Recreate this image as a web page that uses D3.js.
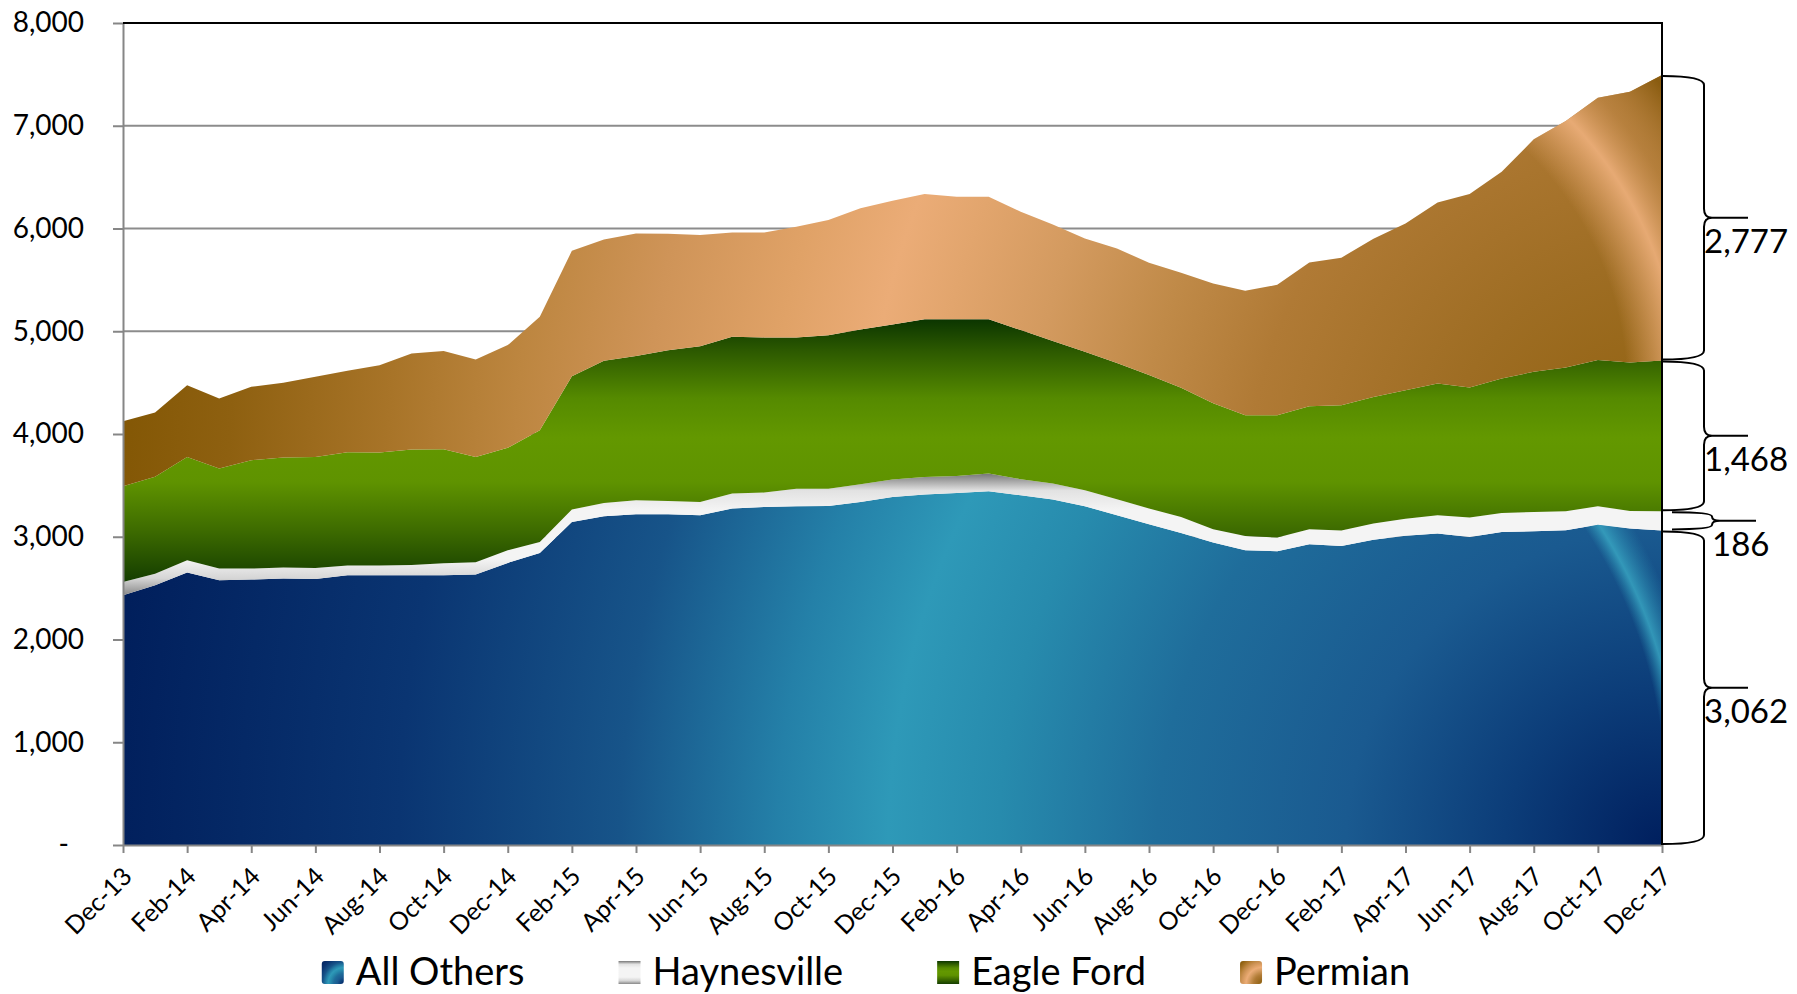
<!DOCTYPE html>
<html>
<head>
<meta charset="utf-8">
<script src="https://cdn.jsdelivr.net/npm/d3@7"></script>
<style>
  html, body { margin: 0; padding: 0; background: #ffffff; }
  svg { display: block; font-family: Lato, "Open Sans", sans-serif; }
</style>
</head>
<body>
<svg id="chart" width="1797" height="994"></svg>
<script>
// Monthly categories, Dec-13 through Dec-17
const months = [
  "Dec-13","Jan-14","Feb-14","Mar-14","Apr-14","May-14","Jun-14","Jul-14","Aug-14","Sep-14","Oct-14","Nov-14",
  "Dec-14","Jan-15","Feb-15","Mar-15","Apr-15","May-15","Jun-15","Jul-15","Aug-15","Sep-15","Oct-15","Nov-15",
  "Dec-15","Jan-16","Feb-16","Mar-16","Apr-16","May-16","Jun-16","Jul-16","Aug-16","Sep-16","Oct-16","Nov-16",
  "Dec-16","Jan-17","Feb-17","Mar-17","Apr-17","May-17","Jun-17","Jul-17","Aug-17","Sep-17","Oct-17","Nov-17",
  "Dec-17"
];

// Series values (stacked bottom to top)
const allOthers = [2430,2528,2651,2577,2583,2593,2590,2625,2625,2625,2625,2632,2745,2842,3144,3200,3219,3219,3209,3275,3290,3297,3300,3339,3388,3411,3427,3443,3404,3362,3297,3209,3122,3037,2943,2869,2859,2927,2910,2970,3010,3031,2998,3047,3053,3063,3118,3080,3062];
const haynesville = [130,113,120,113,107,107,107,94,94,100,117,120,124,107,121,129,136,130,130,145,140,169,166,172,169,171,165,172,156,156,156,156,153,156,130,139,133,146,150,158,164,178,189,185,188,185,179,171,186];
const eagleFord = [932,942,1006,974,1055,1071,1080,1104,1101,1124,1110,1025,996,1088,1298,1383,1403,1467,1516,1526,1510,1474,1496,1506,1509,1536,1526,1503,1451,1386,1347,1327,1298,1256,1227,1175,1191,1198,1220,1233,1253,1282,1266,1308,1364,1400,1422,1445,1468];
const permian = [633,627,698,682,714,727,779,792,850,935,957,948,1000,1103,1220,1182,1194,1133,1081,1016,1022,1077,1120,1179,1204,1217,1191,1191,1152,1136,1103,1114,1093,1120,1165,1210,1269,1397,1436,1539,1622,1763,1882,2012,2263,2398,2554,2635,2777];

const seriesNames = ["All Others", "Haynesville", "Eagle Ford", "Permian"];
const seriesValues = [allOthers, haynesville, eagleFord, permian];

// Axis ticks
const yTicks = [0, 1000, 2000, 3000, 4000, 5000, 6000, 7000, 8000];
const xTickLabels = months.filter((m, i) => i % 2 === 0);

// ---------- layout ----------
const plot = { left: 123, right: 1662, top: 23, bottom: 845 };
const svg = d3.select("#chart");
const defs = svg.append("defs");

const x = d3.scalePoint().domain(months).range([plot.left, plot.right]);
const y = d3.scaleLinear().domain([0, 8000]).range([plot.bottom, plot.top]);

const rows = months.map((m, i) => {
  const r = { month: m };
  seriesNames.forEach((s, k) => { r[s] = seriesValues[k][i]; });
  return r;
});
const stacked = d3.stack().keys(seriesNames)(rows);

// ---------- fill styles ----------
const blueStops = [[0,"#001f5e"],[0.1,"#0c3d79"],[0.2,"#1a5a90"],[0.32,"#1f6d9b"],[0.42,"#278bad"],[0.49,"#2e99b8"],[0.56,"#2480a8"],[0.66,"#175489"],[0.8,"#0a3572"],[1,"#001d5a"]];
const brownStops = [[0,"#8a5c0a"],[0.08,"#976719"],[0.14,"#9e6d23"],[0.26,"#b07a35"],[0.33,"#c08a48"],[0.4,"#d39a5f"],[0.46,"#e2a56d"],[0.5,"#ebac77"],[0.56,"#e0a267"],[0.64,"#cf9458"],[0.72,"#bd8640"],[0.8,"#a87428"],[0.9,"#8e6010"],[1,"#7e5300"]];
const greenStops = [[0,"#0b3500"],[0.12,"#2c5900"],[0.3,"#558a00"],[0.45,"#639800"],[0.62,"#5f9300"],[0.8,"#3e6c00"],[1,"#143d00"]];
const grayStops = [[0,"#777777"],[0.14,"#e2e2e2"],[0.3,"#f4f4f4"],[0.7,"#f4f4f4"],[0.86,"#d6d6d6"],[1,"#888888"]];

const seriesStyle = {
  "All Others": {
    kind: "radial", stops: blueStops,
    sheen: { fx: 0.689, fy: 0.859, r: 540,
      stops: [[0,"#2e99b8",0],[0.892,"#2e99b8",0],[0.918,"#38a4c1",0.85],[0.97,"#2a8cb0",0],[1,"#2a8cb0",0]] }
  },
  "Haynesville": { kind: "linear", stops: grayStops },
  "Eagle Ford": { kind: "linear", stops: greenStops },
  "Permian": {
    kind: "radial", stops: brownStops,
    sheen: { fx: 0.759, fy: 0.769, r: 480,
      stops: [[0,"#ebac77",0],[0.70,"#ebac77",0],[0.81,"#eeb07c",0.9],[0.89,"#c08848",0.55],[1,"#86590c",0.9]] }
  }
};

function addStops(grad, stops) {
  stops.forEach(s => grad.append("stop")
    .attr("offset", s[0])
    .attr("stop-color", s[1])
    .attr("stop-opacity", s.length > 2 ? s[2] : 1));
}

// ---------- gridlines ----------
svg.append("g")
  .selectAll("line")
  .data(yTicks.filter(v => v > 0 && v < 8000))
  .join("line")
  .attr("x1", plot.left).attr("x2", plot.right)
  .attr("y1", d => y(d)).attr("y2", d => y(d))
  .attr("stroke", "#8c8c8c").attr("stroke-width", 2);

// ---------- stacked areas ----------
const area = d3.area()
  .x(d => x(d.data.month))
  .y0(d => y(d[0]))
  .y1(d => y(d[1]));

defs.append("clipPath").attr("id", "sheen-clip")
  .append("rect").attr("x", 1420).attr("y", 0).attr("width", plot.right - 1420).attr("height", plot.bottom);

const gAreas = svg.append("g");
stacked.forEach((layer, i) => {
  const st = seriesStyle[layer.key];
  const path = gAreas.append("path").attr("d", area(layer));
  const id = "fill-" + i;
  if (st.kind === "linear") {
    const g = defs.append("linearGradient").attr("id", id)
      .attr("x1", 0).attr("y1", 0).attr("x2", 0).attr("y2", 1);
    addStops(g, st.stops);
  } else {
    const bb = path.node().getBBox();
    const g = defs.append("radialGradient").attr("id", id)
      .attr("gradientUnits", "userSpaceOnUse")
      .attr("cx", bb.x + bb.width).attr("cy", bb.y + bb.height)
      .attr("fx", bb.x + bb.width).attr("fy", bb.y + bb.height)
      .attr("r", Math.hypot(bb.width, bb.height));
    addStops(g, st.stops);
    // curved highlight near the right edge
    const sh = st.sheen;
    const sid = "sheen-" + i;
    const sg = defs.append("radialGradient").attr("id", sid)
      .attr("gradientUnits", "userSpaceOnUse")
      .attr("cx", bb.x + sh.fx * bb.width).attr("cy", bb.y + sh.fy * bb.height)
      .attr("fx", bb.x + sh.fx * bb.width).attr("fy", bb.y + sh.fy * bb.height)
      .attr("r", sh.r);
    addStops(sg, sh.stops);
    layer.sheenId = sid;
  }
  path.attr("fill", `url(#${id})`);
});
stacked.forEach(layer => {
  if (layer.sheenId) {
    gAreas.append("path").attr("d", area(layer))
      .attr("fill", `url(#${layer.sheenId})`)
      .attr("clip-path", "url(#sheen-clip)");
  }
});

// ---------- axes ----------
const axisGray = "#868686";
const yAxis = d3.axisLeft(y).tickValues(yTicks).tickSize(10).tickSizeOuter(0)
  .tickFormat(v => v === 0 ? "-" : d3.format(",")(v));
const gy = svg.append("g").attr("transform", `translate(${plot.left},0)`).call(yAxis);
gy.select(".domain").attr("stroke", axisGray).attr("stroke-width", 2);
gy.selectAll(".tick line").attr("stroke", axisGray).attr("stroke-width", 2);
gy.selectAll(".tick text")
  .attr("x", d => d === 0 ? -54 : -39)
  .attr("font-size", 28).attr("font-family", "Lato").attr("fill", "#000");

const xAxis = d3.axisBottom(x).tickValues(xTickLabels).tickSize(8).tickSizeOuter(0);
const gx = svg.append("g").attr("transform", `translate(0,${plot.bottom})`).call(xAxis);
gx.select(".domain").attr("stroke", axisGray).attr("stroke-width", 2);
gx.selectAll(".tick line").attr("stroke", axisGray).attr("stroke-width", 2);
gx.selectAll(".tick text")
  .attr("y", 0).attr("dy", 0)
  .attr("transform", "translate(10,33) rotate(-45)")
  .attr("text-anchor", "end")
  .attr("font-size", 25).attr("font-family", "Lato").attr("fill", "#000");

// plot frame (top and right)
svg.append("path")
  .attr("d", `M${plot.left},${plot.top}H${plot.right}V${plot.bottom}`)
  .attr("fill", "none").attr("stroke", "#000").attr("stroke-width", 2);

// ---------- braces with latest values ----------
const last = stacked.map(layer => layer[layer.length - 1]);
const gBr = svg.append("g");
last.forEach((pt, i) => {
  const top = y(pt[1]) + 1, bottom = y(pt[0]) - 1;
  const h = bottom - top;
  let x0 = plot.right + 1, xm = plot.right + 42;
  if (h < 40) { x0 += 9; xm += 8; }
  const mid = (top + bottom) / 2;
  const c = Math.min(9, h / 4);
  const d = `M${x0},${top} Q${xm},${top} ${xm},${top + c} L${xm},${mid - c} Q${xm},${mid} ${xm + 8},${mid} ` +
            `M${xm + 8},${mid} Q${xm},${mid} ${xm},${mid + c} L${xm},${bottom - c} Q${xm},${bottom} ${x0},${bottom} ` +
            `M${xm + 8},${mid} H${xm + 44}`;
  gBr.append("path").attr("d", d).attr("fill", "none").attr("stroke", "#000").attr("stroke-width", 2);
  gBr.append("text")
    .attr("x", xm).attr("y", mid + 35)
    .attr("font-size", 33).attr("font-family", "Lato").attr("fill", "#000")
    .text(d3.format(",")(seriesValues[i][seriesValues[i].length - 1]));
});

// ---------- legend ----------
const legendSwatch = {
  "All Others": { kind: "radial", stops: blueStops },
  "Haynesville": { kind: "linear", stops: grayStops },
  "Eagle Ford": { kind: "linear", stops: greenStops },
  "Permian": { kind: "radial", stops: brownStops }
};
const gLeg = svg.append("g");
const items = seriesNames.map((name, i) => {
  const gid = "leg-" + i;
  const st = legendSwatch[name];
  let g;
  if (st.kind === "linear") {
    g = defs.append("linearGradient").attr("id", gid).attr("x1", 0).attr("y1", 0).attr("x2", 0).attr("y2", 1);
  } else {
    g = defs.append("radialGradient").attr("id", gid).attr("cx", 1).attr("cy", 1).attr("fx", 1).attr("fy", 1).attr("r", 1.45);
  }
  addStops(g, st.stops);
  const it = gLeg.append("g");
  it.append("rect").attr("x", 0).attr("y", -24).attr("width", 22).attr("height", 23)
    .attr("rx", st.kind === "radial" ? 3 : 0).attr("fill", `url(#${gid})`);
  const t = it.append("text").attr("x", 34).attr("y", 0)
    .attr("font-size", 38).attr("font-family", "Lato").attr("fill", "#000").text(name);
  return { g: it, w: 34 + t.node().getComputedTextLength() };
});
const gap = 94;
const total = d3.sum(items, d => d.w) + gap * (items.length - 1);
let cx = 866 - total / 2;
items.forEach(it => { it.g.attr("transform", `translate(${cx},985)`); cx += it.w + gap; });
</script>
</body>
</html>
